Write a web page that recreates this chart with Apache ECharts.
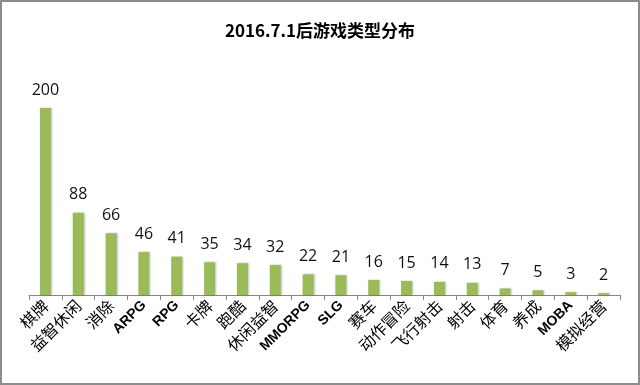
<!DOCTYPE html>
<html><head><meta charset="utf-8">
<script src="https://cdn.jsdelivr.net/npm/echarts@6/dist/echarts.min.js"></script>
<style>html,body{margin:0;padding:0;background:#fff}#c{width:640px;height:385px}</style>
</head><body><div id="c"></div>
<script>
var titleText = '2016.7.1后游戏类型分布';
var categories = ['棋牌','益智休闲','消除','ARPG','RPG','卡牌','跑酷','休闲益智','MMORPG','SLG','赛车','动作冒险','飞行射击','射击','体育','养成','MOBA','模拟经营'];
var values = [200,88,66,46,41,35,34,32,22,21,16,15,14,13,7,5,3,2];

var chart = echarts.init(document.getElementById('c'));
chart.setOption({
  animation: false,
  backgroundColor: '#fff',
  title: {
    text: titleText, left: 'center', top: 17,
    textStyle: {fontFamily: 'Noto Sans CJK SC', fontSize: 17, fontWeight: 'bold', color: '#000'}
  },
  graphic: [{type: 'rect', shape: {x: 1, y: 1, width: 638, height: 383}, style: {fill: 'none', stroke: '#8c8c8c', lineWidth: 2}}],
  grid: {left: 29, right: 20, top: 108, bottom: 90},
  xAxis: {
    type: 'category', data: categories,
    axisLine: {lineStyle: {color: '#868686', width: 1}},
    axisTick: {show: true, length: 5, lineStyle: {color: '#868686'}},
    axisLabel: {rotate: 45, interval: 0, margin: 8, color: '#000',
      formatter: function (v) { return /^[A-Z]+$/.test(v) ? '{en|' + v + '}' : '{zh|' + v + '}'; },
      rich: {
        en: {fontFamily: 'Liberation Sans', fontWeight: 'bold', fontSize: 14, color: '#000'},
        zh: {fontFamily: 'Noto Sans CJK SC', fontSize: 16, color: '#000'}
      }
    }
  },
  yAxis: {type: 'value', min: 0, max: 200, show: false, splitLine: {show: false}},
  series: [{
    type: 'bar', data: values, barWidth: 11,
    itemStyle: {color: '#9BBB59', shadowColor: 'rgba(0,0,0,0.25)', shadowBlur: 2, shadowOffsetX: 1, shadowOffsetY: 0},
    label: {show: true, position: 'top', distance: 10, fontSize: 16, color: '#111', fontFamily: 'Open Sans'}
  }]
});
</script></body></html>
